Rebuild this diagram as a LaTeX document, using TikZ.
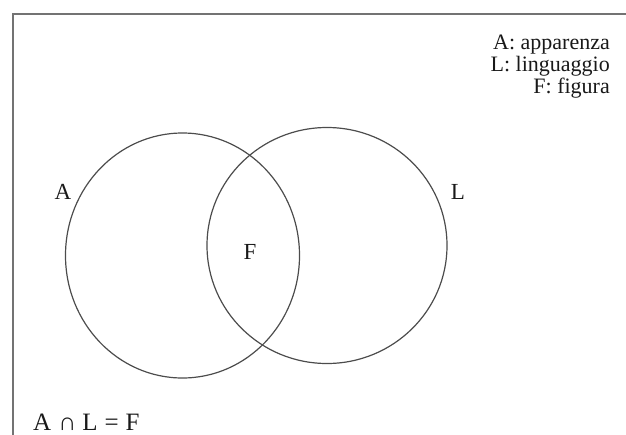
\documentclass[tikz,border=0pt]{standalone}
\usepackage{fontspec}
\setmainfont{Liberation Serif}
\usetikzlibrary{shapes.geometric}
\begin{document}
\begin{tikzpicture}[x=1pt,y=-1pt,
  frame/.style={draw=black!55,line width=1.6pt},
  setline/.style={draw=black!70,line width=1.2pt,ellipse,inner sep=0pt},
  lbl/.style={font=\fontsize{23}{26}\selectfont,text=black!90,inner sep=0pt},
  legend/.style={font=\fontsize{22}{24}\selectfont,text=black!90,inner sep=0pt,anchor=base east}]
\useasboundingbox (0,0) rectangle (626,434);
\draw[frame] (640,14) -- (13,14) -- (13,450);
\node[setline,minimum width=234pt,minimum height=245pt] (cA) at (182.5,255.5) {};
\node[setline,minimum width=240pt,minimum height=236pt] (cL) at (327,245.5) {};
\node[lbl] (tA) at (63,192) {A};
\node[lbl] (tL) at (458,192) {L};
\node[lbl] (tF) at (250,251.5) {F};
\node[legend] (l1) at (610,49) {A: apparenza};
\node[legend] (l2) at (610,71) {L: linguaggio};
\node[legend] (l3) at (610,93) {F: figura};
\node[lbl,anchor=base west,font=\fontsize{25}{27}\selectfont] (eq) at (33,430) {A\hspace{7pt}∩\hspace{6pt}L\hspace{7pt}=\hspace{7pt}F};
\end{tikzpicture}
\end{document}
